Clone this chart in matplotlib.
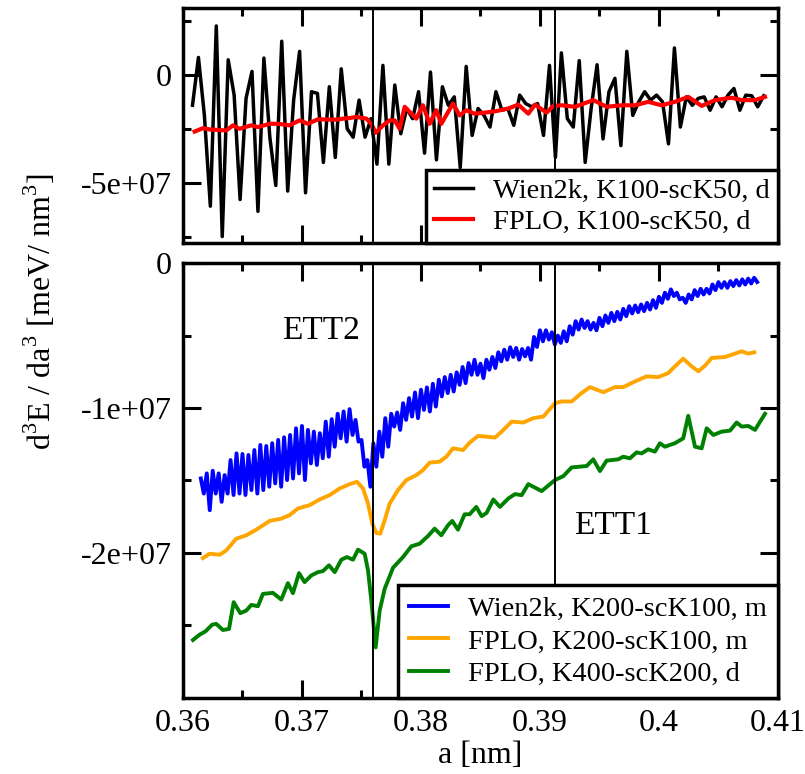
import numpy as np
import matplotlib
matplotlib.use("Agg")
import matplotlib.pyplot as plt
from matplotlib.ticker import MultipleLocator, FixedLocator, FixedFormatter

plt.rcParams['font.family'] = 'Liberation Serif'
plt.rcParams['mathtext.fontset'] = 'custom'
plt.rcParams['mathtext.rm'] = 'Liberation Serif'
plt.rcParams['axes.unicode_minus'] = False

SCALE = 1e7  # values below are in units of 1e7 meV/nm^3

# ETT positions (nm)
ett2_a = 0.3760
ett1_a = 0.3913

# --- top panel: Wien2k K100-scK50 (evenly spaced, step 0.0005 nm from 0.3608)
black_start, black_step = 0.3608, 0.0005
black_v = [-1.41, 0.81, -1.88, -6.09, 2.27, -7.50, 0.70, -0.94, -5.78, -1.09,
           0.16, -6.33, 0.78, -2.89, -5.13, 1.56, -5.39, -1.17, 1.09, -5.47,
           -0.78, -0.86, -4.06, -0.55, -3.83, 0.28, -2.50, -2.89, -1.17, -2.89,
           -2.03, -4.14, 0.44, -4.14, -0.47, -2.73, -1.56, -2.03, -0.78, -3.63,
           0.13, -3.94, -0.55, -1.41, -1.02, -4.30, 0.39, -2.81, -1.56, -1.88,
           -2.42, -0.78, -1.64, -1.56, -2.34, -0.94, -1.33, -1.48, -1.33, -2.81,
           0.44, -3.83, 1.02, -2.03, -2.42, 0.66, -4.06, -1.56, 0.47, -2.97,
           -0.78, -0.16, -3.28, 1.09, -1.88, -1.25, -0.78, -1.17, -0.94, -1.25,
           -3.20, 1.25, -2.42, -1.02, -1.41, -1.09, -1.02, -1.64, -1.02, -1.48,
           -0.94, -0.63, -1.64, -0.94, -0.97, -1.48, -0.97]

# --- top panel: FPLO K100-scK50
red_a = [0.36098, 0.36168, 0.36224, 0.36364, 0.3642, 0.36476, 0.36574, 0.3663,
         0.36728, 0.36798, 0.36896, 0.3698, 0.3705, 0.37134, 0.37289, 0.37345,
         0.37401, 0.37457, 0.37541, 0.37583, 0.37619, 0.37681, 0.37737, 0.37779,
         0.37821, 0.37863, 0.37961, 0.38017, 0.38073, 0.38129, 0.38171, 0.38269,
         0.38325, 0.38381, 0.38451, 0.38538, 0.38622, 0.38734, 0.38818, 0.38902,
         0.38958, 0.39056, 0.39112, 0.39182, 0.39294, 0.39448, 0.3956, 0.39686,
         0.39798, 0.3991, 0.40022, 0.40134, 0.40246, 0.40359, 0.40471, 0.4061,
         0.40695, 0.40807, 0.40891]
red_v = [-2.63, -2.47, -2.53, -2.58, -2.34, -2.50, -2.34, -2.42,
         -2.27, -2.27, -2.34, -2.11, -2.27, -2.06, -2.08, -2.03,
         -2.00, -1.95, -2.03, -2.27, -2.69, -2.34, -2.11, -2.11,
         -2.50, -1.48, -2.03, -1.41, -2.27, -1.64, -2.27, -1.33,
         -1.88, -1.64, -1.80, -1.75, -1.69, -1.56, -1.38, -1.80,
         -1.38, -1.75, -1.44, -1.41, -1.48, -1.17, -1.48, -1.41,
         -1.41, -1.25, -1.41, -1.25, -1.02, -1.44, -1.17, -1.06,
         -1.17, -1.17, -1.02]

# --- bottom panel: Wien2k K200-scK100 (step 0.0005 nm from 0.3615; upper and lower
# envelope of the fast oscillation, lower points sit half a step later)
blue_start, blue_step = 0.3615, 0.0005
blue_upper = [-1.486, -1.451, -1.433, -1.451, -1.463, -1.359, -1.313, -1.317, -1.324, -1.290,
              -1.255, -1.262, -1.243, -1.220, -1.202, -1.186, -1.140, -1.124, -1.151, -1.163,
              -1.174, -1.094, -1.077, -1.040, -1.024, -1.008, -1.082, -1.220, -1.359, -1.243,
              -1.163, -1.070, -1.040, -1.031, -0.967, -0.932, -0.893, -0.874, -0.858, -0.833,
              -0.805, -0.787, -0.771, -0.754, -0.717, -0.690, -0.667, -0.694, -0.667, -0.648,
              -0.616, -0.598, -0.581, -0.586, -0.593, -0.586, -0.510, -0.464, -0.464, -0.478,
              -0.501, -0.471, -0.436, -0.401, -0.390, -0.401, -0.413, -0.378, -0.362, -0.344,
              -0.337, -0.316, -0.298, -0.293, -0.286, -0.275, -0.256, -0.233, -0.205, -0.182,
              -0.205, -0.240, -0.217, -0.187, -0.178, -0.178, -0.148, -0.132, -0.132, -0.125,
              -0.118, -0.113, -0.108, -0.102]
blue_lower = [-1.590, -1.705, -1.590, -1.647, -1.590, -1.600, -1.590, -1.600, -1.566, -1.590,
              -1.566, -1.543, -1.520, -1.543, -1.497, -1.486, -1.451, -1.497, -1.382, -1.393,
              -1.347, -1.336, -1.267, -1.209, -1.232, -1.186, -1.232, -1.405, -1.543, -1.405,
              -1.336, -1.267, -1.128, -1.151, -1.082, -1.059, -1.070, -1.013, -1.024, -0.990,
              -0.920, -0.897, -0.886, -0.840, -0.828, -0.771, -0.771, -0.794, -0.736, -0.724,
              -0.678, -0.667, -0.648, -0.667, -0.644, -0.667, -0.579, -0.540, -0.528, -0.563,
              -0.551, -0.540, -0.494, -0.459, -0.448, -0.459, -0.464, -0.436, -0.413, -0.401,
              -0.390, -0.367, -0.348, -0.339, -0.332, -0.321, -0.309, -0.275, -0.247, -0.228,
              -0.251, -0.275, -0.251, -0.228, -0.217, -0.210, -0.187, -0.171, -0.171, -0.159,
              -0.155, -0.148, -0.141, -0.131]

# --- bottom panel: FPLO K200-scK100
orange_a = [0.36168, 0.36224, 0.36308, 0.36364, 0.36448, 0.36532, 0.36616, 0.36728,
            0.36826, 0.36896, 0.36966, 0.37064, 0.37148, 0.37232, 0.37317, 0.37401,
            0.37462, 0.37513, 0.37555, 0.37591, 0.37625, 0.37658, 0.37695, 0.37737,
            0.37807, 0.37877, 0.37961, 0.38017, 0.38073, 0.38157, 0.38213, 0.38269,
            0.38353, 0.38409, 0.38479, 0.38538, 0.38622, 0.38678, 0.38762, 0.3886,
            0.38944, 0.39028, 0.39126, 0.39182, 0.39266, 0.3935, 0.3942, 0.39533,
            0.39631, 0.397, 0.39798, 0.39896, 0.39994, 0.40078, 0.40134, 0.40204,
            0.40275, 0.40331, 0.40387, 0.40443, 0.40555, 0.40639, 0.40695, 0.40751,
            0.40801]
orange_v = [-2.035, -2.005, -2.012, -1.982, -1.901, -1.878, -1.839, -1.779,
            -1.763, -1.739, -1.693, -1.670, -1.631, -1.601, -1.555, -1.525,
            -1.509, -1.555, -1.659, -1.797, -1.862, -1.866, -1.774, -1.659,
            -1.566, -1.497, -1.463, -1.428, -1.377, -1.370, -1.336, -1.278,
            -1.290, -1.239, -1.193, -1.197, -1.204, -1.163, -1.094, -1.100,
            -1.070, -1.059, -0.967, -0.955, -0.955, -0.897, -0.856, -0.891,
            -0.856, -0.856, -0.817, -0.782, -0.787, -0.759, -0.713, -0.660,
            -0.713, -0.747, -0.708, -0.655, -0.648, -0.625, -0.609, -0.625,
            -0.616]

# --- bottom panel: FPLO K400-scK200
green_a = [0.36084, 0.3614, 0.3619, 0.36246, 0.3628, 0.36336, 0.36387, 0.36426,
           0.36482, 0.36532, 0.36574, 0.3663, 0.36672, 0.36756, 0.36826, 0.36882,
           0.36924, 0.36975, 0.37022, 0.37078, 0.37134, 0.37176, 0.37227, 0.37275,
           0.37331, 0.37378, 0.37429, 0.37471, 0.37527, 0.37555, 0.37583, 0.37619,
           0.37653, 0.37695, 0.37765, 0.37849, 0.37919, 0.37989, 0.38059, 0.38115,
           0.38171, 0.38227, 0.38263, 0.38311, 0.38367, 0.38409, 0.38465, 0.3851,
           0.38552, 0.38608, 0.38664, 0.38734, 0.3879, 0.38846, 0.38902, 0.39014,
           0.39126, 0.39196, 0.39266, 0.39392, 0.39448, 0.39504, 0.3956, 0.39658,
           0.397, 0.39756, 0.39812, 0.39854, 0.3991, 0.39966, 0.40008, 0.4005,
           0.40134, 0.40204, 0.40246, 0.40303, 0.40359, 0.40401, 0.40457, 0.40527,
           0.40597, 0.40653, 0.40695, 0.40751, 0.40807, 0.40891]
green_v = [-2.600, -2.563, -2.540, -2.494, -2.489, -2.531, -2.524, -2.339,
           -2.415, -2.397, -2.358, -2.367, -2.282, -2.275, -2.321, -2.208,
           -2.277, -2.139, -2.201, -2.155, -2.132, -2.125, -2.085, -2.132,
           -2.046, -2.028, -2.046, -1.977, -2.005, -2.120, -2.328, -2.651,
           -2.397, -2.247, -2.102, -2.028, -1.954, -1.936, -1.883, -1.832,
           -1.878, -1.809, -1.779, -1.839, -1.733, -1.733, -1.682, -1.746,
           -1.723, -1.631, -1.682, -1.624, -1.594, -1.601, -1.525, -1.573,
           -1.497, -1.470, -1.410, -1.400, -1.354, -1.435, -1.363, -1.354,
           -1.336, -1.347, -1.306, -1.313, -1.285, -1.301, -1.243, -1.267,
           -1.243, -1.209, -1.054, -1.267, -1.278, -1.140, -1.186, -1.163,
           -1.156, -1.100, -1.128, -1.124, -1.151, -1.040]

labels_top = ['Wien2k, K100-scK50, d', 'FPLO, K100-scK50, d']
labels_bot = ['Wien2k, K200-scK100, m', 'FPLO, K200-scK100, m', 'FPLO, K400-scK200, d']

# build x grids / interleave blue envelopes
black_a = black_start + black_step * np.arange(len(black_v))
blue_a_up = blue_start + blue_step * np.arange(len(blue_upper))
blue_a = np.empty(2 * len(blue_upper))
blue_y = np.empty(2 * len(blue_upper))
blue_a[0::2] = blue_a_up
blue_a[1::2] = blue_a_up + blue_step / 2
blue_y[0::2] = blue_upper
blue_y[1::2] = blue_lower

fig = plt.figure(figsize=(8.05, 7.74), dpi=100)
ax1 = fig.add_axes([0.2273, 0.686, 0.7391, 0.3036])
ax2 = fig.add_axes([0.2273, 0.0982, 0.7391, 0.562])

ax1.plot(black_a, np.array(black_v) * SCALE, color='black', lw=2.5, label=labels_top[0])
ax1.plot(red_a, np.array(red_v) * SCALE, color='red', lw=3.0, label=labels_top[1])

ax2.plot(blue_a, blue_y * SCALE, color='blue', lw=2.8, label=labels_bot[0])
ax2.plot(orange_a, np.array(orange_v) * SCALE, color='orange', lw=2.8, label=labels_bot[1])
ax2.plot(green_a, np.array(green_v) * SCALE, color='green', lw=2.8, label=labels_bot[2])

for ax in (ax1, ax2):
    ax.axvline(ett2_a, color='black', lw=1.4, zorder=3)
    ax.axvline(ett1_a, color='black', lw=1.4, zorder=3)
    ax.set_xlim(0.36, 0.41)
    ax.xaxis.set_major_locator(MultipleLocator(0.01))
    ax.xaxis.set_minor_locator(MultipleLocator(0.005))
    ax.tick_params(which='both', direction='in', top=True, right=True, width=2.2)
    ax.tick_params(which='major', length=13, labelsize=23, pad=8)
    ax.tick_params(which='minor', length=6)
    for sp in ax.spines.values():
        sp.set_linewidth(2.5)

# top panel axes
ax1.set_ylim(-7.8e7, 3.1e7)
ax1.yaxis.set_major_locator(FixedLocator([-5e7, 0]))
ax1.yaxis.set_major_formatter(FixedFormatter(['-5e+07', '0']))
ax1.yaxis.set_minor_locator(FixedLocator([-7.5e7, -2.5e7, 2.5e7]))
ax1.tick_params(axis='x', labelbottom=False)

# bottom panel axes
ax2.set_ylim(-3e7, 0)
ax2.yaxis.set_major_locator(FixedLocator([-2e7, -1e7, 0]))
ax2.yaxis.set_major_formatter(FixedFormatter(['-2e+07', '-1e+07', '0']))
ax2.yaxis.set_minor_locator(FixedLocator([-2.5e7, -1.5e7, -0.5e7]))
ax2.xaxis.set_major_locator(FixedLocator([0.36, 0.37, 0.38, 0.39, 0.40, 0.41]))
ax2.xaxis.set_major_formatter(FixedFormatter(['0.36', '0.37', '0.38', '0.39', '0.4', '0.41']))
ax2.set_xlabel('a [nm]', fontsize=23, labelpad=2)

ax2.text(0.3749, -0.47e7, 'ETT2', fontsize=24, ha='right', va='center')
ax2.text(0.3929, -1.81e7, 'ETT1', fontsize=24, ha='left', va='center')

fig.text(0.05, 1 - 312 / 774, r'd$^{3}$E / da$^{3}$ [meV/ nm$^{3}$]', fontsize=23,
         rotation=90, ha='center', va='center')

for ax, spacing, bpad in ((ax1, 0.15, 0.3), (ax2, 0.22, 0.4)):
    leg = ax.legend(loc='lower right', bbox_to_anchor=(1, 0), borderaxespad=0,
                    fontsize=20.5, handlelength=1.35, handletextpad=0.7,
                    labelspacing=spacing, borderpad=bpad, fancybox=False,
                    framealpha=1, edgecolor='black')
    leg.get_frame().set_linewidth(2.5)
    leg.set_zorder(5)

fig.savefig('out.png', dpi=100)
